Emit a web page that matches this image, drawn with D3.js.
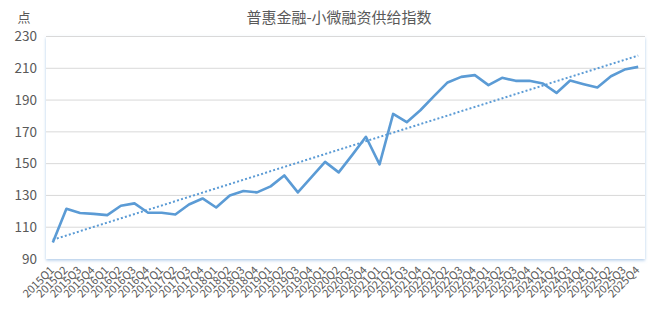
<!DOCTYPE html>
<html>
<head>
<meta charset="utf-8">
<script src="https://cdn.jsdelivr.net/npm/d3@7"></script>
<style>
  body { margin: 0; background: #fff; }
  svg text { font-family: "Noto Sans CJK SC", "Noto Sans", sans-serif; fill: #595959; }
</style>
</head>
<body>
<svg id="drawing_region"></svg>
<script>
// quarters 2015Q1 .. 2025Q4
const years = d3.range(2015, 2026);
const quarters = years.flatMap(y => [1, 2, 3, 4].map(q => `${y}Q${q}`));

const values = [
  100.4, 121.6, 118.9, 118.4, 117.6, 123.5, 125.0, 119.1,
  119.1, 118.0, 124.3, 128.1, 122.4, 130.0, 132.8, 131.9,
  135.7, 142.6, 131.9, 141.5, 151.1, 144.5, 155.5, 166.9,
  149.5, 181.3, 176.1, 183.6, 192.5, 201.1, 204.6, 205.7,
  199.4, 204.0, 202.1, 202.1, 200.4, 194.5, 202.3, 200.0,
  197.9, 205.0, 209.2, 210.9
];

const yTicks = [90, 110, 130, 150, 170, 190, 210, 230];

const title = "普惠金融-小微融资供给指数";
const unit = "点";

class LineChart {
  constructor(config, data) {
    this.config = config;
    this.data = data;
    this.init();
  }

  init() {
    let self = this;
    const c = self.config;
    self.inner_width = c.width - c.margin.left - c.margin.right;
    self.inner_height = c.height - c.margin.top - c.margin.bottom;

    self.svg = d3.select(c.parent)
      .attr('width', c.width)
      .attr('height', c.height);

    const defs = self.svg.append('defs');
    defs.append('filter')
      .attr('id', 'plotShadow')
      .attr('x', '-5%').attr('y', '-5%')
      .attr('width', '110%').attr('height', '115%')
      .append('feDropShadow')
      .attr('dx', 0).attr('dy', 1.5)
      .attr('stdDeviation', 1.6)
      .attr('flood-color', '#6fa3d8')
      .attr('flood-opacity', 0.55);

    self.chart = self.svg.append('g')
      .attr('transform', `translate(${c.margin.left},${c.margin.top})`);

    self.xscale = d3.scaleBand()
      .domain(self.data.map(d => d.label))
      .range([0, self.inner_width]);

    self.yscale = d3.scaleLinear()
      .domain([90, 230])
      .range([self.inner_height, 0]);
  }

  update() {
    this.render();
  }

  render() {
    let self = this;
    const xs = self.xscale, ys = self.yscale;
    const cx = d => xs(d.label) + xs.bandwidth() / 2;

    // plot area
    self.chart.append('rect')
      .attr('width', self.inner_width)
      .attr('height', self.inner_height)
      .attr('fill', '#fff')
      .attr('filter', 'url(#plotShadow)');

    // gridlines
    self.chart.append('g')
      .selectAll('line')
      .data(yTicks.filter(t => t > 90))
      .join('line')
      .attr('x1', 0).attr('x2', self.inner_width)
      .attr('y1', d => ys(d)).attr('y2', d => ys(d))
      .attr('stroke', '#d9d9d9')
      .attr('stroke-width', 1);

    // y axis
    const yAxis = self.chart.append('g')
      .call(d3.axisLeft(ys).tickValues(yTicks).tickSize(0).tickPadding(9));
    yAxis.select('.domain').remove();
    yAxis.selectAll('text')
      .style('font-size', '13.5px')
      .attr('fill', '#595959');

    // x axis
    const xAxis = self.chart.append('g')
      .attr('transform', `translate(0,${self.inner_height})`)
      .call(d3.axisBottom(xs).tickSize(0).tickPadding(0));
    xAxis.select('.domain').remove();
    xAxis.selectAll('text')
      .attr('fill', '#595959')
      .style('font-size', '11px')
      .attr('text-anchor', 'end')
      .attr('dy', null)
      .attr('y', 0)
      .attr('transform', 'translate(2,12) rotate(-45)');

    // trend line (least squares over the series)
    const n = self.data.length;
    const mx = d3.mean(self.data, (d, i) => i);
    const my = d3.mean(self.data, d => d.value);
    const slope = d3.sum(self.data, (d, i) => (i - mx) * (d.value - my)) /
                  d3.sum(self.data, (d, i) => (i - mx) * (i - mx));
    const icpt = my - slope * mx;
    const trend = [0, n - 1].map(i => ({ label: self.data[i].label, value: icpt + slope * i }));

    const line = d3.line().x(cx).y(d => ys(d.value));

    self.chart.append('path')
      .datum(trend)
      .attr('d', line)
      .attr('fill', 'none')
      .attr('stroke', '#5b9bd5')
      .attr('stroke-width', 2)
      .attr('stroke-dasharray', '2,2.2');

    self.chart.append('path')
      .datum(self.data)
      .attr('d', line)
      .attr('fill', 'none')
      .attr('stroke', '#5b9bd5')
      .attr('stroke-width', 2.6)
      .attr('stroke-linejoin', 'round');

    // title and unit
    self.svg.append('text')
      .attr('x', 339).attr('y', 23)
      .attr('text-anchor', 'middle')
      .style('font-size', '15px')
      .text(title);

    self.svg.append('text')
      .attr('x', 24).attr('y', 22)
      .attr('text-anchor', 'middle')
      .style('font-size', '13px')
      .text(unit);
  }
}

const data = quarters.map((q, i) => ({ label: q, value: values[i] }));

var config = {
  parent: '#drawing_region',
  width: 664,
  height: 326,
  margin: { top: 36.5, right: 19, bottom: 67, left: 46 }
};

const chart = new LineChart(config, data);
chart.update();
</script>
</body>
</html>
